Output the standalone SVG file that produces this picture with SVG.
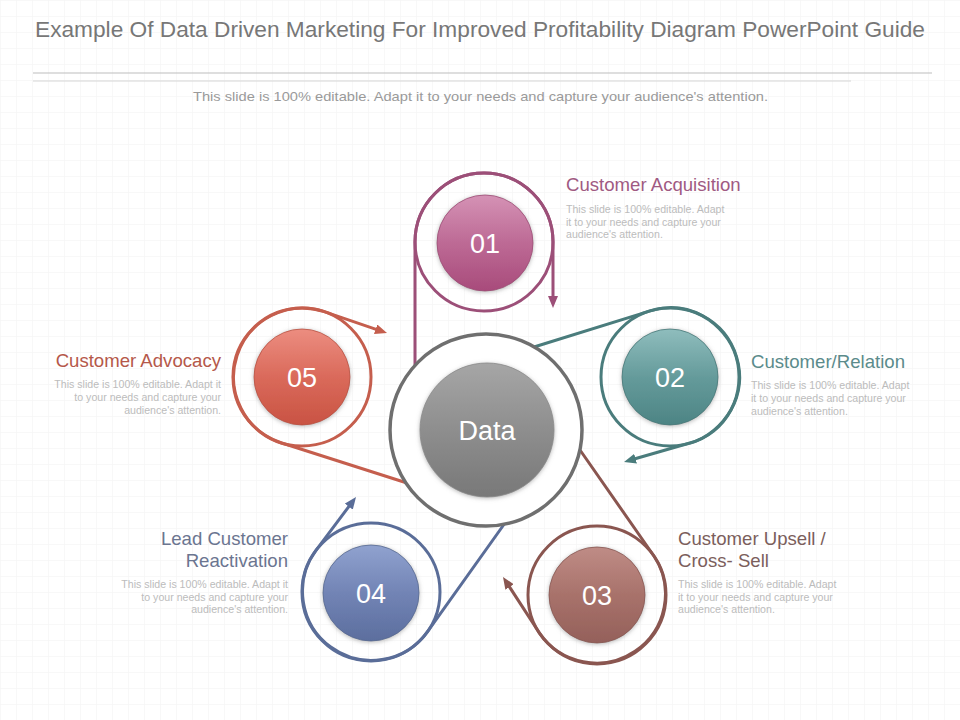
<svg xmlns="http://www.w3.org/2000/svg" width="960" height="720" viewBox="0 0 960 720">
<style>
.ttl{font-family:"Liberation Sans",Arial,sans-serif;font-size:22px;fill:#777777}
.sub{font-family:"Liberation Sans",Arial,sans-serif;font-size:13px;fill:#9a9a9a}
.head{font-family:"Liberation Sans",Arial,sans-serif;font-size:18.6px}
.desc{font-family:"Liberation Sans",Arial,sans-serif;font-size:10.6px;fill:#bcbcbc}
.num{font-family:"Liberation Sans",Arial,sans-serif;font-size:27px;fill:#ffffff;text-anchor:middle}
.ring{fill:none;stroke-width:3}
.conn{fill:none;stroke-width:3}
</style>
<defs>
<pattern id="grid" width="16" height="16" patternUnits="userSpaceOnUse">
<path d="M16,0 L0,0 L0,16" fill="none" stroke="#f2f2f2" stroke-width="1"/>
</pattern>
<filter id="glow" x="-30%" y="-30%" width="160%" height="160%">
<feDropShadow dx="0" dy="1" stdDeviation="2.2" flood-color="#888" flood-opacity="0.6"/>
</filter>
<linearGradient id="g1" x1="0" y1="0" x2="0" y2="1"><stop offset="0" stop-color="#d592b5"/><stop offset="0.5" stop-color="#bd6a95"/><stop offset="1" stop-color="#a84b7b"/></linearGradient>
<linearGradient id="g2" x1="0" y1="0" x2="0" y2="1"><stop offset="0" stop-color="#8fbdbd"/><stop offset="0.5" stop-color="#659b9b"/><stop offset="1" stop-color="#4d8484"/></linearGradient>
<linearGradient id="g3" x1="0" y1="0" x2="0" y2="1"><stop offset="0" stop-color="#bf8c86"/><stop offset="0.5" stop-color="#a8726b"/><stop offset="1" stop-color="#94605a"/></linearGradient>
<linearGradient id="g4" x1="0" y1="0" x2="0" y2="1"><stop offset="0" stop-color="#90a2cf"/><stop offset="0.5" stop-color="#7284b5"/><stop offset="1" stop-color="#5c6e9e"/></linearGradient>
<linearGradient id="g5" x1="0" y1="0" x2="0" y2="1"><stop offset="0" stop-color="#ec8d80"/><stop offset="0.5" stop-color="#da6a5b"/><stop offset="1" stop-color="#c95343"/></linearGradient>
<linearGradient id="gd" x1="0" y1="0" x2="0" y2="1"><stop offset="0" stop-color="#a6a6a6"/><stop offset="0.5" stop-color="#8e8e8e"/><stop offset="1" stop-color="#787878"/></linearGradient>
<marker id="m1" viewBox="0 0 12 10" markerWidth="12" markerHeight="10" refX="6" refY="5" orient="auto" markerUnits="userSpaceOnUse"><path d="M0,0 L12,5 L0,10 z" fill="#9c4f78"/></marker>
<marker id="m2" viewBox="0 0 12 10" markerWidth="12" markerHeight="10" refX="6" refY="5" orient="auto" markerUnits="userSpaceOnUse"><path d="M0,0 L12,5 L0,10 z" fill="#4a7c7c"/></marker>
<marker id="m3" viewBox="0 0 12 10" markerWidth="12" markerHeight="10" refX="6" refY="5" orient="auto" markerUnits="userSpaceOnUse"><path d="M0,0 L12,5 L0,10 z" fill="#8a5650"/></marker>
<marker id="m4" viewBox="0 0 12 10" markerWidth="12" markerHeight="10" refX="6" refY="5" orient="auto" markerUnits="userSpaceOnUse"><path d="M0,0 L12,5 L0,10 z" fill="#5a6d98"/></marker>
<marker id="m5" viewBox="0 0 12 10" markerWidth="12" markerHeight="10" refX="6" refY="5" orient="auto" markerUnits="userSpaceOnUse"><path d="M0,0 L12,5 L0,10 z" fill="#c55e4d"/></marker>
</defs>
<rect x="0" y="0" width="960" height="720" fill="#ffffff"/>
<rect x="0" y="0" width="960" height="720" fill="url(#grid)"/>

<g id="header">
<text class="ttl" x="35" y="37" textLength="890" lengthAdjust="spacingAndGlyphs">Example Of Data Driven Marketing For Improved Profitability Diagram PowerPoint Guide</text>
<line x1="33" y1="73" x2="932" y2="73" stroke="#bdbdbd" stroke-width="1"/>
<line x1="33" y1="81" x2="851" y2="81" stroke="#d6d6d6" stroke-width="1"/>
<text class="sub" x="193" y="101" textLength="575" lengthAdjust="spacingAndGlyphs">This slide is 100% editable. Adapt it to your needs and capture your audience's attention.</text>
</g>

<g id="connectors">
<path class="conn" stroke="#9c4f78" marker-end="url(#m1)" d="M415,366 L415,242 A69,69 0 0 1 553,242 L553,302"/>
<path class="conn" stroke="#4a7c7c" marker-end="url(#m2)" d="M534,347 L649.5,311.1 A69,69 0 1 1 689,443.3 L629.8,460.3"/>
<path class="conn" stroke="#8a5650" marker-end="url(#m3)" d="M580,450 L653.6,555.5 A69,69 0 1 1 539.2,632.7 L506.3,582"/>
<path class="conn" stroke="#5a6d98" marker-end="url(#m4)" d="M505,523 L427.2,632.1 A69,69 0 1 1 315.8,550.6 L352.4,501.8"/>
<path class="conn" stroke="#c55e4d" marker-end="url(#m5)" d="M407,483 L281,442.7 A69,69 0 1 1 324.2,311.6 L381.3,331.1"/>
</g>

<g id="node-data">
<circle cx="486" cy="430" r="96" fill="#ffffff" stroke="#6f6f6f" stroke-width="3.5"/>
<circle cx="487" cy="430" r="67" fill="url(#gd)" stroke="#8a8a8a" stroke-width="0.8" filter="url(#glow)"/>
<text class="num" x="487" y="440" font-size="29">Data</text>
</g>

<g id="node-01">
<circle class="ring" cx="484" cy="242" r="69" stroke="#9c4f78"/>
<circle cx="485" cy="243" r="48" fill="url(#g1)" stroke="#9a4a74" stroke-width="0.8" filter="url(#glow)"/>
<text class="num" x="485" y="253">01</text>
<text class="head" x="566" y="191" fill="#a05a82">Customer Acquisition</text>
<text class="desc" x="566" y="213">This slide is 100% editable.  Adapt</text>
<text class="desc" x="566" y="226">it to your needs and capture your</text>
<text class="desc" x="566" y="238">audience's attention.</text>
</g>

<g id="node-02">
<circle class="ring" cx="670" cy="377" r="69" stroke="#4a7c7c"/>
<circle cx="670" cy="377" r="48" fill="url(#g2)" stroke="#457777" stroke-width="0.8" filter="url(#glow)"/>
<text class="num" x="670" y="387">02</text>
<text class="head" x="751" y="368" fill="#5b8b8b">Customer/Relation</text>
<text class="desc" x="751" y="389">This slide is 100% editable.  Adapt</text>
<text class="desc" x="751" y="402">it to your needs and capture your</text>
<text class="desc" x="751" y="415">audience's attention.</text>
</g>

<g id="node-03">
<circle class="ring" cx="597" cy="595" r="69" stroke="#8a5650"/>
<circle cx="597" cy="595" r="48" fill="url(#g3)" stroke="#875650" stroke-width="0.8" filter="url(#glow)"/>
<text class="num" x="597" y="605">03</text>
<text class="head" x="678" y="545" fill="#7b5e5c">Customer Upsell /</text>
<text class="head" x="678" y="567" fill="#7b5e5c">Cross- Sell</text>
<text class="desc" x="678" y="588">This slide is 100% editable.  Adapt</text>
<text class="desc" x="678" y="601">it to your needs and capture your</text>
<text class="desc" x="678" y="613">audience's attention.</text>
</g>

<g id="node-04">
<circle class="ring" cx="371" cy="592" r="69" stroke="#5a6d98"/>
<circle cx="371" cy="593" r="48" fill="url(#g4)" stroke="#56688f" stroke-width="0.8" filter="url(#glow)"/>
<text class="num" x="371" y="603">04</text>
<text class="head" x="288" y="545" fill="#6b7590" text-anchor="end">Lead Customer</text>
<text class="head" x="288" y="567" fill="#6b7590" text-anchor="end">Reactivation</text>
<text class="desc" x="288" y="588" text-anchor="end">This slide is 100% editable.  Adapt it</text>
<text class="desc" x="288" y="601" text-anchor="end">to your needs and capture your</text>
<text class="desc" x="288" y="613" text-anchor="end">audience's attention.</text>
</g>

<g id="node-05">
<circle class="ring" cx="302" cy="377" r="69" stroke="#c55e4d"/>
<circle cx="302" cy="377" r="48" fill="url(#g5)" stroke="#b85040" stroke-width="0.8" filter="url(#glow)"/>
<text class="num" x="302" y="387">05</text>
<text class="head" x="221" y="367" fill="#b5584a" text-anchor="end">Customer Advocacy</text>
<text class="desc" x="221" y="388" text-anchor="end">This slide is 100% editable.  Adapt it</text>
<text class="desc" x="221" y="401" text-anchor="end">to your needs and capture your</text>
<text class="desc" x="221" y="414" text-anchor="end">audience's attention.</text>
</g>
</svg>
